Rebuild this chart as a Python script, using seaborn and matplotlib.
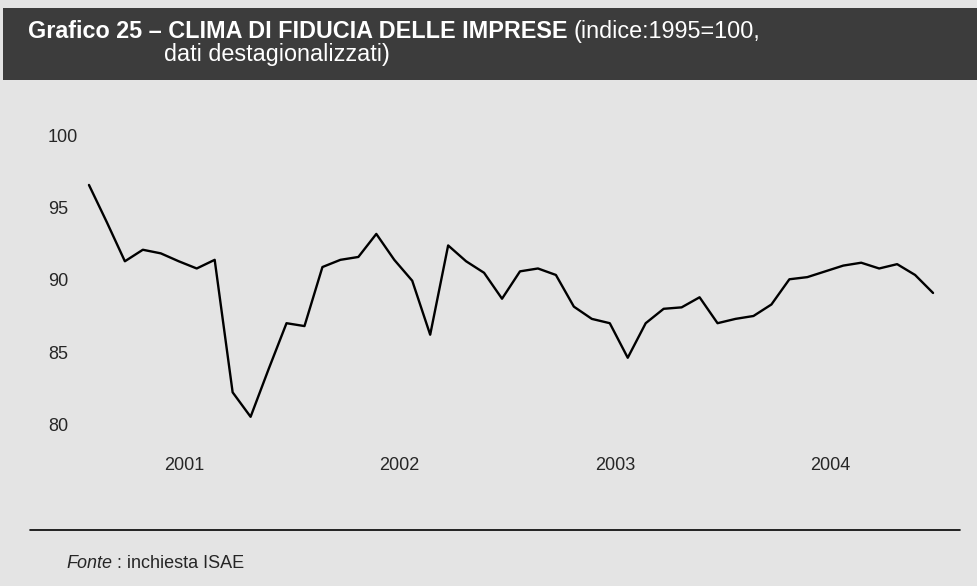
import matplotlib
matplotlib.use("Agg")
import matplotlib.pyplot as plt
from matplotlib.lines import Line2D
from matplotlib.patches import Rectangle
import seaborn as sns
import pandas as pd
import numpy as np


# monthly index, Jan 2001 - Dec 2004
years = ["2001", "2002", "2003", "2004"]
clima_2001 = [96.6, 94.0, 91.3, 92.1, 91.85, 91.3, 90.8, 91.4, 82.2, 80.5, 83.8, 87.0]
clima_2002 = [86.8, 90.9, 91.4, 91.6, 93.2, 91.4, 89.95, 86.2, 92.4, 91.3, 90.5, 88.7]
clima_2003 = [90.6, 90.8, 90.35, 88.15, 87.3, 87.0, 84.6, 87.0, 88.0, 88.1, 88.8, 87.0]
clima_2004 = [87.3, 87.5, 88.3, 90.05, 90.2, 90.6, 91.0, 91.2, 90.8, 91.1, 90.35, 89.1]
y_ticks = [80, 85, 90, 95, 100]

values = clima_2001 + clima_2002 + clima_2003 + clima_2004
df = pd.DataFrame({"mese": np.arange(len(values)), "indice": values})

sns.set_theme(style="white")
plt.rcParams["font.family"] = ["Liberation Sans", "DejaVu Sans"]

bg = "#e4e4e4"
W, H = 978, 586
fig = plt.figure(figsize=(9.78, 5.86), dpi=100, facecolor=bg)
ax = fig.add_axes([0.0726, 0.2273, 0.8998, 0.5652])
ax.set_facecolor(bg)

sns.lineplot(data=df, x="mese", y="indice", color="black", linewidth=1.7, ax=ax)

ax.set_xlim(-1, 48)
ax.set_ylim(78, 101)
ax.set_xticks([5.3 + 12 * i for i in range(len(years))])
ax.set_xticklabels(years, fontsize=13)
ax.set_yticks(y_ticks)
ax.set_yticklabels([str(t) for t in y_ticks], fontsize=13, ha="left")
ax.tick_params(axis="y", length=0, pad=16.5)
ax.tick_params(axis="x", length=0, pad=3)
ax.set_xlabel("")
ax.set_ylabel("")
for s in ax.spines.values():
    s.set_visible(False)

# title bar
fig.add_artist(Rectangle((3 / W, 1 - 80 / H), 1, 72 / H,
                         transform=fig.transFigure, facecolor="#3c3c3c",
                         edgecolor="none", zorder=0))
t1 = fig.text(28 / W, 1 - 38 / H, "Grafico 25 – CLIMA DI FIDUCIA DELLE IMPRESE",
              color="white", fontsize=16.8, fontweight="bold", va="baseline")
fig.canvas.draw()
bb = t1.get_window_extent()
fig.text(bb.x1 / W + 0.006, 1 - 38 / H, "(indice:1995=100,",
         color="white", fontsize=16.8, va="baseline")
fig.text(164 / W, 1 - 61 / H, "dati destagionalizzati)",
         color="white", fontsize=16.8, va="baseline")

# bottom rule and source
fig.add_artist(Line2D([30 / W, 960 / W], [1 - 530 / H, 1 - 530 / H],
                      transform=fig.transFigure, color="black", linewidth=1.2))
t2 = fig.text(66 / W, 1 - 568 / H, "Fonte", fontsize=13, style="italic",
              va="baseline")
fig.canvas.draw()
bb2 = t2.get_window_extent()
fig.text(bb2.x1 / W, 1 - 568 / H, " : inchiesta ISAE", fontsize=13,
         va="baseline")

plt.savefig("out.png", dpi=100, facecolor=bg)
